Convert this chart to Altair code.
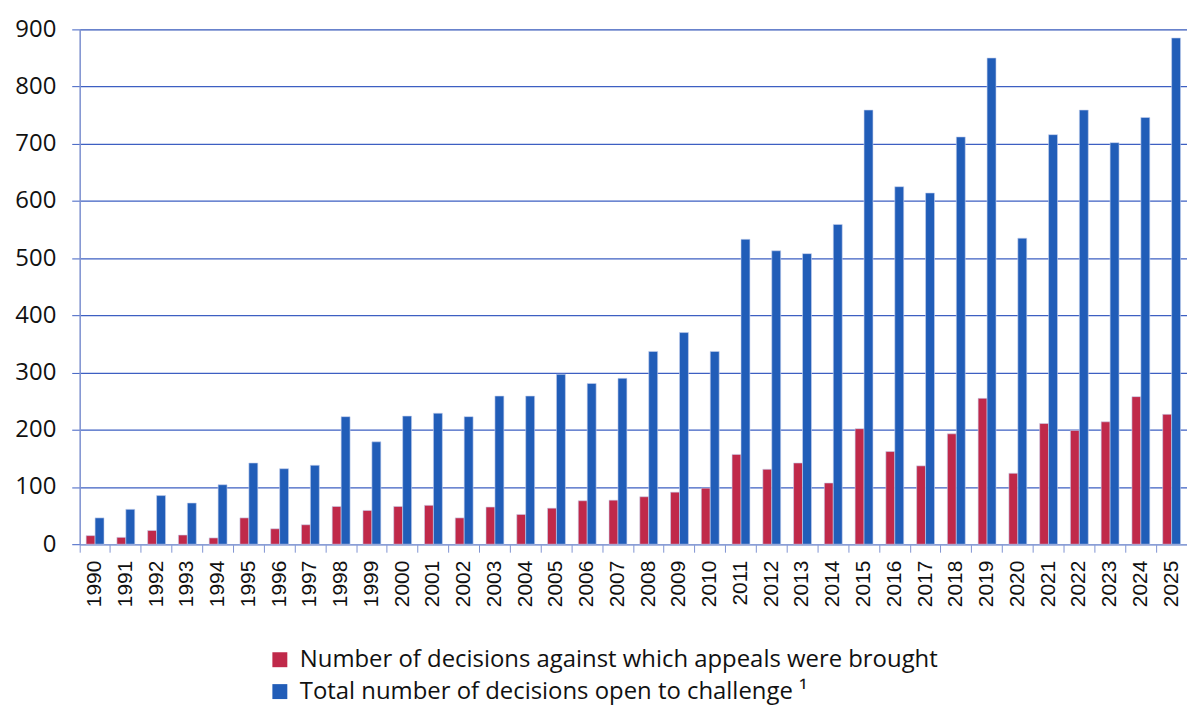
import altair as alt
import pandas as pd

years = [str(y) for y in range(1990, 2026)]
appeals = [15, 12, 24, 16, 11, 46, 27, 34, 66, 59,
           66, 68, 46, 65, 52, 63, 76, 77, 83, 91,
           98, 157, 131, 142, 107, 202, 162, 137, 193, 255,
           124, 211, 199, 214, 258, 227]
total = [46, 61, 85, 72, 104, 142, 132, 138, 223, 179,
         224, 229, 223, 259, 259, 297, 281, 290, 337, 370,
         337, 533, 513, 508, 559, 759, 625, 614, 712, 850,
         535, 716, 759, 702, 746, 885]
series_names = ["Number of decisions against which appeals were brought",
                "Total number of decisions open to challenge \u00b9"]
colors = ["#C0294A", "#215DB8"]

rows = []
for i, y in enumerate(years):
    rows.append({"year": y, "series": series_names[0], "value": appeals[i]})
    rows.append({"year": y, "series": series_names[1], "value": total[i]})
df = pd.DataFrame(rows)

grid_col = "#3D5FC2"
font = "Open Sans"

chart = alt.Chart(df).mark_bar(stroke="#C8D2EE", strokeWidth=0.6).encode(
    x=alt.X("year:N", sort=years, title=None,
            scale=alt.Scale(paddingInner=0, paddingOuter=0),
            axis=alt.Axis(labelAngle=-90, labelFontSize=21, labelFont="Liberation Sans",
                          labelColor="#111111", labelAlign="right", labelBaseline="middle",
                          bandPosition=0, tickSize=8, tickColor="#7F93D2",
                          domainColor="#8A9ED6", domainWidth=1.5, labelPadding=8,
                          grid=False)),
    xOffset=alt.XOffset("series:N", sort=series_names,
                        scale=alt.Scale(paddingOuter=0.72, paddingInner=0)),
    y=alt.Y("value:Q", title=None,
            scale=alt.Scale(domain=[0, 900], nice=False),
            axis=alt.Axis(values=list(range(0, 1000, 100)), labelFontSize=24, labelFont=font,
                          labelColor="#111111", tickSize=8, tickColor=grid_col,
                          gridColor=grid_col, gridWidth=1.2, domainColor="#7F93D2",
                          domainWidth=1.5, labelPadding=16)),
    color=alt.Color("series:N", sort=series_names,
                    scale=alt.Scale(domain=series_names, range=colors),
                    legend=alt.Legend(title=None, orient="none", legendX=189, legendY=621,
                                      symbolType="square", symbolSize=225,
                                      symbolStrokeWidth=0, labelFontSize=24,
                                      labelFont=font, labelColor="#111111",
                                      labelLimit=900, rowPadding=8, padding=0,
                                      labelOffset=8)),
).properties(
    width=1112, height=517,
    autosize=alt.AutoSizeParams(type="none"),
    padding={"left": 72, "top": 20, "right": 0, "bottom": 164},
).configure_view(stroke=None).configure(background="white")

chart.save("out.html", embed_options={"renderer": "svg", "actions": False})
